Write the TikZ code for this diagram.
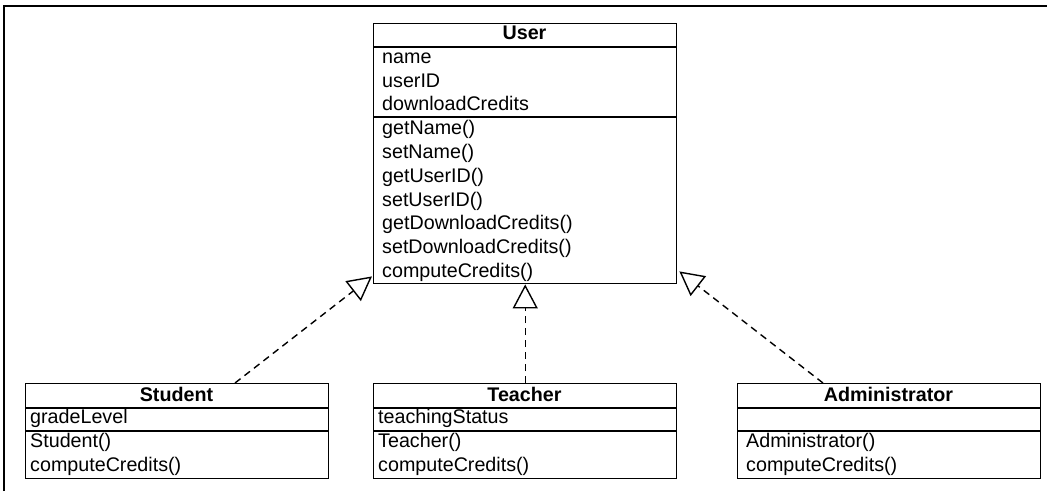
\documentclass[tikz,border=0pt]{standalone}
\usepackage{fontspec}
\setmainfont{Liberation Sans}
\usetikzlibrary{arrows.meta,calc}
\begin{document}
\begin{tikzpicture}[x=1pt,y=-1pt,
  box/.style={draw, line width=1.4pt, inner sep=0pt, anchor=north west},
  sep/.style={line width=1.4pt},
  txt/.style={anchor=base west, inner sep=0pt, font=\fontsize{19.7}{23}\selectfont},
  ttl/.style={anchor=base, inner sep=0pt, font=\fontsize{19.7}{23}\selectfont\bfseries},
  real/.style={line width=1.4pt, dash pattern=on 7pt off 5pt,
    -{Triangle[open, fill=white, length=24pt, width=25pt, line width=1.4pt]}}]
\useasboundingbox (0,0) rectangle (1047,491);
% frame
\draw[line width=2.5pt] (4,491) -- (4,6) -- (1047,6);
% User
\node[box, minimum width=303pt, minimum height=260pt] (user) at (373,23) {};
\draw[sep] (373,47) -- (676,47);
\draw[sep] (373,117) -- (676,117);
\node[ttl] (ut) at (524.5,39.5) {User};
\node[txt] (u1) at (382,63.3) {name};
\node[txt] (u2) at (382,87.1) {userID};
\node[txt] (u3) at (382,110.9) {downloadCredits};
\node[txt] (u4) at (382,134.7) {getName()};
\node[txt] (u5) at (382,158.5) {setName()};
\node[txt] (u6) at (382,182.3) {getUserID()};
\node[txt] (u7) at (382,206.1) {setUserID()};
\node[txt] (u8) at (382,229.9) {getDownloadCredits()};
\node[txt] (u9) at (382,253.7) {setDownloadCredits()};
\node[txt] (u10) at (382,277.5) {computeCredits()};
% Student
\node[box, minimum width=303pt, minimum height=95pt] (student) at (25,383) {};
\draw[sep] (25,408) -- (328,408);
\draw[sep] (25,431) -- (328,431);
\node[ttl] (st) at (176.5,401.7) {Student};
\node[txt] (s1) at (30,423.5) {gradeLevel};
\node[txt] (s2) at (30,447.3) {Student()};
\node[txt] (s3) at (30,471) {computeCredits()};
% Teacher
\node[box, minimum width=303pt, minimum height=95pt] (teacher) at (373,383) {};
\draw[sep] (373,408) -- (676,408);
\draw[sep] (373,431) -- (676,431);
\node[ttl] (tt) at (524.5,401.7) {Teacher};
\node[txt] (t1) at (378,423.5) {teachingStatus};
\node[txt] (t2) at (378,447.3) {Teacher()};
\node[txt] (t3) at (378,471) {computeCredits()};
% Administrator
\node[box, minimum width=303pt, minimum height=95pt] (admin) at (737,383) {};
\draw[sep] (737,408) -- (1040,408);
\draw[sep] (737,431) -- (1040,431);
\node[ttl] (at) at (888.5,401.7) {Administrator};
\node[txt] (a2) at (746,447.3) {Administrator()};
\node[txt] (a3) at (746,471) {computeCredits()};
% connectors
\coordinate (sT) at ($(student.north west)+(210,0)$);
\coordinate (aT) at ($(admin.north west)+(86,0)$);
\coordinate (uL) at ($(user.south west)+(-1,-8)$);
\coordinate (uR) at ($(user.south east)+(2,-13)$);
\draw[real] (sT) -- (uL);
\draw[real] (teacher.north) -- (user.south);
\draw[real] (aT) -- (uR);
\end{tikzpicture}
\end{document}
